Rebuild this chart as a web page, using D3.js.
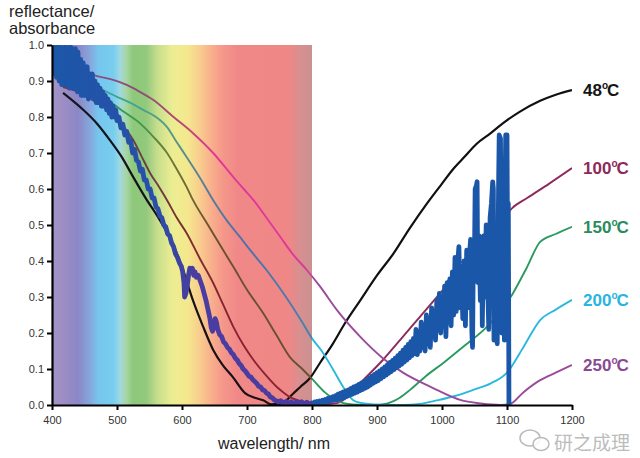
<!DOCTYPE html>
<html><head><meta charset="utf-8">
<script src="https://cdn.jsdelivr.net/npm/d3@7"></script>
<style>
body{margin:0;background:#fff;}
svg{display:block;font-family:"Liberation Sans",Arial,sans-serif;}
</style></head><body>
<svg id="c" width="640" height="458"></svg>
<script>
// ---------- data ----------
const xTicks = [400,500,600,700,800,900,1000,1100,1200];
const yTicks = [0,0.1,0.2,0.3,0.4,0.5,0.6,0.7,0.8,0.9,1.0];
const temps = ["48","100","150","200","250"];

const s48 = [[417,.867],[448,.82],[470,.78],[489,.736],[507,.69],[525,.633],[546,.569],[562,.525],[577,.478],[590,.43],[600,.384],[617,.29],[632,.22],[648,.153],[663,.11],[678,.078],[697,.033],[712,.02],[725,.013],[737,.002],[750,.003],[760,.012],[770,.03],[782,.05],[797,.075],[812,.116],[832,.17],[850,.225],[874,.29],[900,.36],[925,.42],[950,.49],[977,.56],[1000,.615],[1017,.655],[1035,.69],[1053,.725],[1075,.755],[1094,.783],[1120,.815],[1151,.845],[1175,.862],[1200,.875]];
const s100 = [[417,.883],[440,.87],[460,.85],[489,.815],[507,.78],[525,.736],[538,.69],[551,.644],[565,.605],[577,.569],[592,.52],[607,.478],[628,.405],[648,.339],[663,.28],[679,.217],[695,.165],[710,.125],[728,.085],[746,.05],[756,.035],[766,.022],[780,.012],[800,.005],[820,.002],[840,.006],[856,.025],[874,.06],[909,.125],[940,.19],[966,.245],[997,.31],[1030,.38],[1060,.445],[1090,.51],[1108,.547],[1131,.575],[1165,.615],[1200,.658]];
const s150 = [[420,.9],[445,.88],[469,.856],[489,.842],[510,.815],[535,.783],[556,.745],[577,.7],[592,.655],[607,.606],[617,.569],[640,.5],[660,.44],[679,.384],[700,.32],[725,.255],[745,.195],[766,.133],[785,.1],[802,.069],[820,.035],[843,.008],[870,.001],[895,.0],[915,.004],[935,.02],[951,.042],[975,.08],[1002,.117],[1035,.165],[1069,.217],[1090,.26],[1109,.31],[1130,.38],[1151,.453],[1175,.475],[1200,.495]];
const s200 = [[420,.92],[445,.9],[469,.883],[500,.856],[520,.84],[541,.819],[560,.8],[577,.772],[592,.73],[607,.689],[628,.63],[648,.569],[670,.51],[690,.465],[705,.43],[730,.375],[760,.3],[785,.23],[800,.185],[815,.15],[832,.1],[848,.05],[863,.014],[880,.004],[910,.0],[940,.0],[966,.003],[990,.012],[1020,.025],[1048,.042],[1075,.06],[1100,.09],[1125,.16],[1151,.236],[1175,.265],[1200,.292]];
const s250 = [[420,.95],[440,.935],[463,.917],[490,.905],[515,.889],[535,.87],[556,.847],[587,.8],[617,.755],[648,.7],[679,.633],[695,.6],[710,.569],[730,.52],[750,.47],[770,.42],[792,.375],[812,.33],[840,.26],[874,.19],[909,.13],[940,.09],[977,.055],[1000,.035],[1028,.014],[1060,.004],[1090,.0],[1105,.003],[1125,.035],[1151,.069],[1175,.09],[1200,.111]];

const sMeasured = [[400,1.0],[401,.93],[402,.99],[403,.92],[404,1.0],[405,.94],[406,.97],[407,.91],[408,1.0],[409,.93],[410,.98],[411,.90],[412,1.0],[413,.92],[414,.96],[415,.89],[416,.99],[417,.91],[418,.97],[419,.89],[420,1.0],[421,.92],[422,.96],[423,.89],[424,.99],[425,.90],[426,.97],[427,.88],[428,1.0],[429,.90],[430,.97],[431,.89],[432,.99],[433,.88],[434,.96],[435,.88],[436,.99],[437,.89],[438,.97],[439,.87],[440,.98],[441,.88],[442,.95],[443,.87],[444,.96],[445,.86],[446,.94],[447,.87],[448,.95],[449,.86],[450,.93],[452,.86],[454,.94],[456,.85],[458,.92],[460,.86],[462,.92],[464,.85],[466,.90],[468,.84],[470,.89],[472,.84],[474,.88],[476,.83],[478,.87],[480,.83],[482,.86],[484,.82],[486,.85],[488,.81],[490,.84],[492,.80],[494,.83],[496,.80],[498,.82],[500,.79],[503,.80],[506,.77],[509,.78],[512,.75],[515,.76],[518,.73],[521,.735],[524,.70],[527,.71],[530,.68],[533,.675],[536,.65],[539,.655],[542,.625],[545,.625],[548,.60],[551,.60],[554,.575],[557,.575],[560,.55],[563,.545],[566,.525],[569,.52],[572,.50],[575,.495],[578,.475],[581,.47],[584,.45],[587,.44],[590,.42],[593,.41],[596,.395],[599,.385],[601,.37],[603,.34],[604,.30],[606,.31],[608,.33],[610,.36],[612,.38],[614,.37],[616,.38],[618,.36],[620,.37],[622,.355],[625,.36],[628,.345],[631,.33],[634,.31],[637,.29],[640,.265],[643,.24],[645,.215],[647,.205],[649,.22],[651,.24],[653,.23],[655,.21],[658,.195],[661,.19],[664,.175],[667,.17],[670,.16],[673,.155],[676,.145],[679,.14],[682,.13],[685,.125],[688,.115],[691,.11],[694,.10],[697,.095],[700,.088],[703,.08],[706,.078],[709,.07],[712,.065],[715,.06],[718,.052],[721,.05],[724,.042],[727,.04],[730,.033],[733,.03],[736,.022],[739,.02],[742,.014],[745,.012],[748,.008],[752,.012],[756,.005],[760,.01],[764,.004],[768,.009],[772,.003],[776,.01],[780,.004],[784,.009],[788,.003],[792,.008],[796,.002],
[800,.006],[802,.002],[804,.008],[806,.003],[808,.01],[810,.004],[812,.011],[814,.005],[816,.013],[818,.007],[820,.015],[822,.008],[824,.018],[826,.01],[828,.02],[830,.012],[832,.023],[834,.013],[836,.026],[838,.015],
[840,.03],[842,.016],[844,.033],[846,.019],[848,.036],[850,.021],[852,.039],[854,.024],[856,.042],[858,.027],[860,.046],[862,.03],[864,.05],[866,.033],[868,.053],[870,.036],[872,.057],[874,.04],[876,.061],[878,.043],[880,.065],[882,.047],[884,.07],[886,.05],[888,.075],[890,.055],[892,.08],[894,.06],[896,.085],[898,.064],[900,.09],[902,.068],[904,.095],[906,.073],[908,.1],[910,.078],[912,.106],[914,.083],[916,.112],[918,.088],[920,.118],[922,.093],[924,.124],[926,.098],[928,.13],[930,.103],[932,.137],[934,.108],[936,.144],[938,.113],[940,.152],[942,.119],[944,.16],[946,.125],[948,.168],[950,.131],[952,.176],[954,.137],[956,.185],[958,.143],
[960,.21],[962,.14],[964,.2],[966,.15],[968,.23],[970,.16],[972,.22],[974,.15],[976,.25],[978,.17],[980,.24],[982,.16],[984,.27],[986,.19],[988,.26],[990,.18],[992,.29],[994,.21],[996,.31],[998,.2],[1000,.3],[1002,.22],[1004,.33],[1006,.19],[1008,.34],[1010,.24],[1012,.35],[1014,.22],[1016,.37],[1018,.25],[1020,.41],[1022,.26],[1024,.39],[1026,.44],[1028,.27],[1030,.36],[1032,.24],[1034,.40],[1036,.22],[1038,.43],[1040,.27],[1042,.41],[1044,.46],[1046,.2],[1047,.16],[1048,.38],[1050,.42],[1051,.6],[1053,.61],[1054,.62],[1055,.34],[1057,.47],[1059,.29],[1061,.45],[1062,.22],[1064,.47],[1066,.3],[1068,.5],[1070,.35],[1072,.21],[1074,.52],[1076,.56],[1078,.62],[1079,.6],[1080,.18],[1082,.5],[1084,.45],[1085,.17],[1087,.6],[1088,.75],[1090,.74],[1091,.35],[1092,.2],[1094,.68],[1095,.4],[1096,.18],[1097,.6],[1098,.75],[1100,.75],[1101,.35],[1102,.56],[1103,0]];

// ---------- styles ----------
const spectrumStops = [[400,"#a294c8"],[420,"#9c8cc4"],[440,"#8a88c6"],[458,"#86a6dc"],[472,"#76c6ee"],[495,"#78ceef"],[505,"#a2d8e0"],[514,"#a6d6a4"],[525,"#8ec87a"],[545,"#92c97c"],[562,"#c6de8c"],[585,"#eced92"],[608,"#f4e88e"],[625,"#f8d08e"],[645,"#f8b08c"],[665,"#f4968a"],[685,"#f08888"],[765,"#ef8787"],[782,"#d69090"],[800,"#cc9090"]];
const lineStyles = {
  "48":  {w:2.2, label:"#151515", stops:[[400,"#141420"],[800,"#1a1010"],[800,"#111"],[1200,"#111"]]},
  "100": {w:1.9, label:"#8c2a5c", stops:[[400,"#7a3050"],[540,"#6a4040"],[600,"#7a3030"],[680,"#8a2030"],[800,"#8a2a38"],[800,"#8c2a5c"],[1200,"#8c2a5c"]]},
  "150": {w:1.9, label:"#2a8c5c", stops:[[400,"#2e9a6a"],[530,"#3a9a50"],[580,"#707a3a"],[650,"#6a5030"],[800,"#6a5030"],[800,"#2a9a60"],[1200,"#2a9a60"]]},
  "200": {w:1.9, label:"#2ab4e0", stops:[[400,"#3aa0b0"],[520,"#3aa890"],[580,"#5a9a80"],[640,"#5a7a9a"],[700,"#5070a8"],[800,"#4a80b0"],[800,"#2ab8dc"],[1200,"#2ab8dc"]]},
  "250": {w:1.9, label:"#8a4a92", stops:[[400,"#8a4a90"],[530,"#8a5078"],[590,"#b04a70"],[650,"#e03898"],[775,"#e03898"],[800,"#c8409a"],[800,"#9a4a9a"],[1200,"#9a4a9a"]]}
};
const measuredStops = [[400,"#1b57a8"],[560,"#2a4fa8"],[620,"#4a3ca0"],[800,"#4a3ca0"],[800,"#1b57a8"],[1200,"#1b57a8"]];
const seriesData = {"48":s48,"100":s100,"150":s150,"200":s200,"250":s250};

// ---------- chart ----------
const svg = d3.select("#c");
const x = d3.scaleLinear().domain([400,1200]).range([52,572]);
const y = d3.scaleLinear().domain([0,1]).range([405,45]);
const defs = svg.append("defs");
const off = l => ((l-400)/800*100)+"%";

function grad(id, stops){
  const g = defs.append("linearGradient").attr("id",id)
    .attr("gradientUnits","userSpaceOnUse")
    .attr("x1",x(400)).attr("x2",x(1200)).attr("y1",0).attr("y2",0);
  stops.forEach(s=>g.append("stop").attr("offset",off(s[0])).attr("stop-color",s[1]));
}
const sg = defs.append("linearGradient").attr("id","spec")
  .attr("gradientUnits","userSpaceOnUse").attr("x1",x(400)).attr("x2",x(800)).attr("y1",0).attr("y2",0);
spectrumStops.forEach(s=>sg.append("stop").attr("offset",((s[0]-400)/400*100)+"%").attr("stop-color",s[1]));

defs.append("clipPath").attr("id","plot").append("rect")
  .attr("x",x(400)).attr("y",y(1)).attr("width",x(1200)-x(400)).attr("height",y(0)-y(1)+1);

svg.append("rect").attr("x",x(400)).attr("y",y(1)).attr("width",x(800)-x(400)).attr("height",y(0)-y(1))
  .attr("fill","url(#spec)");

const line = d3.line().x(d=>x(d[0])).y(d=>y(d[1])).curve(d3.curveMonotoneX);
const plot = svg.append("g").attr("clip-path","url(#plot)");
temps.forEach(t=>{
  grad("g"+t, lineStyles[t].stops);
  plot.append("path").datum(seriesData[t]).attr("d",line)
    .attr("fill","none").attr("stroke","url(#g"+t+")").attr("stroke-width",lineStyles[t].w)
    .attr("stroke-linejoin","round");
});
grad("gm", measuredStops);
plot.append("path").datum(sMeasured)
  .attr("d", d3.line().x(d=>x(d[0])).y(d=>y(d[1])))
  .attr("fill","none").attr("stroke","url(#gm)").attr("stroke-width",4.8).attr("stroke-linejoin","round");

// axes
const ax = svg.append("g").attr("transform",`translate(0,${y(0)})`)
  .call(d3.axisBottom(x).tickValues(xTicks).tickFormat(d3.format("d")).tickSize(5).tickSizeOuter(0).tickPadding(6));
const ay = svg.append("g").attr("transform",`translate(${x(400)},0)`)
  .call(d3.axisLeft(y).tickValues(yTicks).tickFormat(d3.format(".1f")).tickSize(5).tickSizeOuter(0).tickPadding(3));
[ax,ay].forEach(a=>{
  a.select(".domain").attr("stroke","#000").attr("stroke-width",2.2);
  a.selectAll(".tick line").attr("stroke","#000").attr("stroke-width",2);
  a.selectAll(".tick text").attr("fill","#333").attr("font-size",11)
   .attr("font-family","'Liberation Sans',Arial,sans-serif");
});

// titles
svg.append("text").attr("x",9).attr("y",17).attr("font-size",16.5).attr("fill","#222").text("reflectance/");
svg.append("text").attr("x",9).attr("y",34).attr("font-size",16.5).attr("fill","#222").text("absorbance");
svg.append("text").attr("x",274).attr("y",449).attr("text-anchor","middle").attr("font-size",16).attr("fill","#222").text("wavelength/ nm");

// series labels
temps.forEach(t=>{
  const last = seriesData[t][seriesData[t].length-1];
  const tx = svg.append("text").attr("x",x(last[0])+11).attr("y",y(last[1])+6)
    .attr("font-size",17).attr("font-weight","bold").attr("fill",lineStyles[t].label);
  tx.append("tspan").text(t);
  tx.append("tspan").attr("dy",-7).attr("font-size",10).text("o");
  tx.append("tspan").attr("dy",7).attr("dx",-1).text("C");
});

// watermark (kept just below the tick labels)
const wm = svg.append("g");
wm.append("ellipse").attr("cx",530).attr("cy",438).attr("rx",10).attr("ry",8)
  .attr("fill","#fff").attr("fill-opacity",0.85).attr("stroke","#bbb").attr("stroke-width",1.5);
wm.append("ellipse").attr("cx",541).attr("cy",444).attr("rx",8).attr("ry",6.5)
  .attr("fill","#fff").attr("fill-opacity",0.85).attr("stroke","#bbb").attr("stroke-width",1.5);
wm.append("text").attr("x",554).attr("y",450).attr("font-size",19)
  .attr("font-family","'Noto Sans CJK SC',sans-serif").attr("fill","#bcbcbc").text("研之成理");
</script>
</body></html>
